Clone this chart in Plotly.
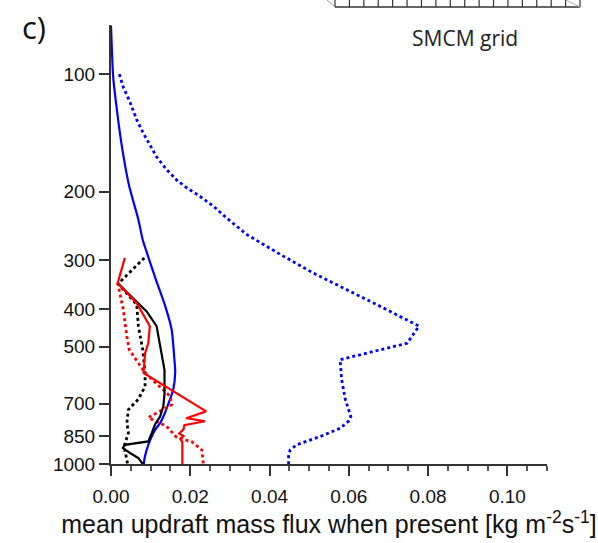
import math
import plotly.graph_objects as go

# ---- data (pressure hPa, mass flux kg m-2 s-1) ----
blue_solid_p = [75, 100, 108, 131, 159, 194, 236, 266, 282, 336, 394, 452, 540, 580, 645, 682, 740, 785, 815, 867, 920, 975, 1000]
blue_solid_x = [0.0, 0.0005, 0.0008, 0.0018, 0.0030, 0.0046, 0.0069, 0.0080, 0.0088, 0.0113, 0.0137, 0.0153, 0.0160, 0.0162, 0.0157, 0.0149, 0.0136, 0.0124, 0.0112, 0.0099, 0.0090, 0.0084, 0.0083]

blue_dot_p = [100, 108, 118, 131, 142, 152, 163, 176, 187, 196, 206, 218, 234, 258, 290, 324, 357, 394, 443, 490, 540, 608, 682, 755, 777, 810, 850, 892, 920, 955, 1000]
blue_dot_x = [0.0021, 0.0031, 0.0048, 0.0065, 0.0082, 0.0098, 0.0115, 0.0141, 0.0166, 0.0192, 0.0225, 0.0258, 0.0292, 0.0343, 0.0427, 0.0511, 0.0595, 0.0679, 0.0777, 0.0747, 0.0578, 0.0582, 0.0591, 0.0605, 0.0599, 0.0578, 0.0528, 0.0469, 0.0452, 0.0448, 0.0448]

black_solid_p = [345, 379, 406, 443, 509, 574, 660, 711, 755, 792, 832, 875, 893, 910, 937, 965, 1000]
black_solid_x = [0.0018, 0.0061, 0.0090, 0.0115, 0.0126, 0.0135, 0.0135, 0.0132, 0.0124, 0.0111, 0.0103, 0.0094, 0.0035, 0.0030, 0.0048, 0.0069, 0.0080]

black_dot_p = [296, 345, 390, 443, 509, 584, 632, 682, 725, 785, 832, 900, 1000]
black_dot_x = [0.0084, 0.0018, 0.0065, 0.0069, 0.0080, 0.0086, 0.0086, 0.0069, 0.0044, 0.0040, 0.0044, 0.0033, 0.0042]

red_solid_p = [296, 343, 387, 443, 490, 520, 584, 733, 763, 777, 795, 815, 835, 848, 862, 880, 1000]
red_solid_x = [0.0035, 0.0017, 0.0065, 0.0098, 0.0094, 0.0086, 0.0082, 0.0240, 0.0190, 0.0237, 0.0185, 0.0183, 0.0172, 0.0183, 0.0175, 0.0180, 0.0180]

red_dot_p = [343, 402, 470, 509, 584, 670, 705, 760, 765, 800, 855, 877, 920, 1000]
red_dot_x = [0.0017, 0.0031, 0.0040, 0.0046, 0.0086, 0.0149, 0.0153, 0.0094, 0.0100, 0.0140, 0.0166, 0.0204, 0.0229, 0.0233]

y_ticks = [100, 200, 300, 400, 500, 700, 850, 1000]
x_ticks = [0.0, 0.02, 0.04, 0.06, 0.08, 0.10]

series = [
    (blue_dot_x, blue_dot_p, "#0000ff", "dot", 2.8, "linear"),
    (blue_solid_x, blue_solid_p, "#0000ff", "solid", 2.2, "spline"),
    (black_dot_x, black_dot_p, "#000000", "dot", 2.8, "linear"),
    (red_dot_x, red_dot_p, "#ff0000", "dot", 2.8, "linear"),
    (black_solid_x, black_solid_p, "#000000", "solid", 2.2, "linear"),
    (red_solid_x, red_solid_p, "#ff0000", "solid", 2.2, "linear"),
]

fig = go.Figure()
for xs, ps, col, dash, w, shape in series:
    fig.add_trace(go.Scatter(x=xs, y=ps, mode="lines",
                             line=dict(color=col, dash=dash, width=w, shape=shape, smoothing=0.6),
                             showlegend=False, hoverinfo="skip"))

fig.update_layout(
    width=598, height=543,
    margin=dict(l=111, r=51, t=25, b=79),
    paper_bgcolor="white", plot_bgcolor="white",
    font=dict(family="Liberation Sans, Arial, sans-serif", color="#111", size=19),
    xaxis=dict(
        range=[0, 0.11], tickvals=x_ticks, ticktext=[f"{v:.2f}" for v in x_ticks],
        showgrid=False, zeroline=False, showline=True, linecolor="#333", linewidth=2,
        ticks="outside", ticklen=10, tickwidth=2, tickcolor="#333",
        tickfont=dict(size=19, color="#111"), ticklabelstandoff=4,
        minor=dict(dtick=0.005, tick0=0, ticks="outside", ticklen=5, tickwidth=1.5, tickcolor="#555"),
        title=dict(text="mean updraft mass flux when present [kg m<sup>-2</sup>s<sup>-1</sup>]",
                   font=dict(size=25, color="#111"), standoff=8),
    ),
    yaxis=dict(
        type="log", range=[3, math.log10(74.8)],
        tickvals=y_ticks, ticktext=[str(v) for v in y_ticks],
        showgrid=False, zeroline=False, showline=True, linecolor="#333", linewidth=2,
        ticks="outside", ticklen=10, tickwidth=2, tickcolor="#333",
        tickfont=dict(size=19, color="#111"),
    ),
)

# pixel -> paper helpers for decorations
def px(xp):
    return (xp - 111) / (547 - 111)
def py(yp):
    return (464 - yp) / (464 - 25)

# panel label and neighbouring-panel fragment
fig.add_annotation(text="c)", xref="paper", yref="paper", x=px(20), y=py(27),
                   xanchor="left", yanchor="middle", showarrow=False,
                   font=dict(family="Open Sans, Noto Sans, sans-serif", size=31, color="#111"))
fig.add_annotation(text="SMCM grid", xref="paper", yref="paper", x=px(465), y=py(38),
                   xanchor="center", yanchor="middle", showarrow=False,
                   font=dict(family="Open Sans, Noto Sans, sans-serif", size=21, color="#222"))

# hatched grid strip at the top (fragment of another panel)
x0, x1, ybot = 335, 580, 7
fig.add_shape(type="line", xref="paper", yref="paper", x0=px(x0), x1=px(x1), y0=py(ybot), y1=py(ybot),
              line=dict(color="#333", width=1.5))
n = 17
for i in range(n + 1):
    xx = x0 + i * (x1 - x0) / n
    fig.add_shape(type="line", xref="paper", yref="paper", x0=px(xx), x1=px(xx), y0=py(ybot), y1=py(-2),
                  line=dict(color="#333", width=1.2))
fig.add_shape(type="line", xref="paper", yref="paper", x0=px(x0 - 8), x1=px(x0), y0=py(0), y1=py(ybot),
              line=dict(color="#999", width=1))
fig.add_shape(type="line", xref="paper", yref="paper", x0=px(x1 - 14), x1=px(x1), y0=py(0), y1=py(ybot),
              line=dict(color="#aaa", width=1))

fig.write_html("out.html")
